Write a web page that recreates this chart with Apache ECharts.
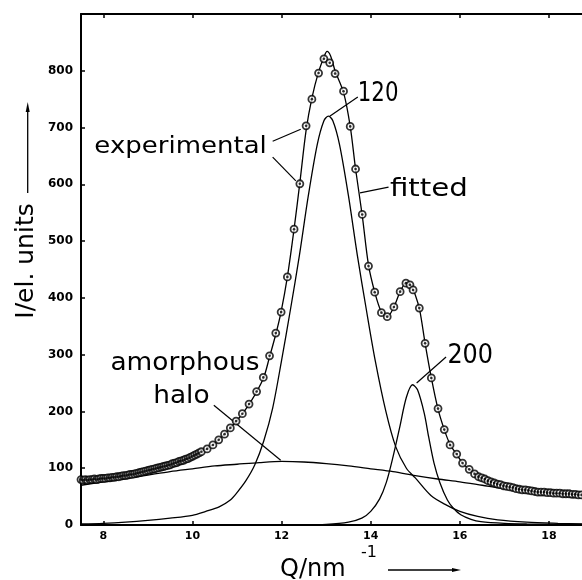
<!DOCTYPE html>
<html><head><meta charset="utf-8">
<script src="https://cdn.jsdelivr.net/npm/echarts@6/dist/echarts.min.js"></script>
<style>html,body{margin:0;padding:0;background:#fff}#c{width:582px;height:580px}</style>
</head><body><div id="c"></div>
<script>
// ---- data ----
const xTicks = [8, 10, 12, 14, 16, 18];
const yTickStep = 100;

const experimental = [
  [7.50,80],[7.55,79],[7.60,80],[7.65,79],[7.70,80],[7.75,80],[7.80,81],[7.85,80],[7.90,81],[7.95,82],
  [8.00,82],[8.05,82],[8.10,83],[8.15,83],[8.20,84],[8.25,84],[8.30,85],[8.35,85],[8.40,86],[8.45,87],
  [8.50,87],[8.55,88],[8.60,89],[8.65,89],[8.70,90],[8.75,91],[8.80,92],[8.85,93],[8.90,94],[8.95,95],
  [9.00,96],[9.05,97],[9.10,98],[9.15,99],[9.20,100],[9.25,101],[9.30,102],[9.35,103],[9.40,104],[9.45,105],
  [9.50,106],[9.55,108],[9.60,109],[9.65,110],[9.70,112],[9.75,113],[9.80,114],[9.85,116],[9.90,117],[9.95,119],
  [10.00,121],[10.05,123],[10.10,125],[10.15,127],[10.20,129],
  [10.33,134],[10.46,141],[10.59,150],[10.72,160],[10.85,171],[10.98,183],[11.12,196],[11.27,213],
  [11.44,235],[11.59,260],[11.73,298],[11.87,338],[11.99,375],[12.13,437],[12.28,521],
  [12.41,601],[12.55,703],[12.68,750],[12.83,796],[12.95,821],[13.08,814],[13.2,795],[13.39,764],
  [13.54,702],[13.66,627],[13.81,547],[13.95,456],[14.09,410],[14.24,374],[14.37,367],[14.52,384],
  [14.66,411],[14.79,426],[14.88,423],[14.95,414],[15.09,382],[15.22,320],[15.36,259],[15.51,205],
  [15.65,168],[15.78,141],[15.93,125],[16.06,109],[16.21,98],[16.33,90],
  [16.42,85],[16.49,83],[16.56,81],[16.63,78],[16.70,76],[16.77,74],[16.84,72],[16.91,71],[16.98,69],
  [17.05,68],[17.12,67],[17.19,66],[17.26,64],[17.33,63],[17.40,62],[17.47,62],[17.54,61],[17.61,60],
  [17.68,59],[17.75,58],[17.82,58],[17.89,58],[17.96,57],[18.03,57],[18.10,56],[18.17,56],[18.24,56],
  [18.31,55],[18.38,55],[18.45,55],[18.52,54],[18.59,54],[18.66,53],[18.73,53]
];

const fitted = [
  [7.5,79],[8.0,82],[8.5,87],[9.0,96],[9.5,106],[10.0,121],[10.5,144],[11.0,184],[11.3,216],
  [11.59,258],[11.73,296],[11.87,336],[11.99,376],[12.13,437],[12.28,521],[12.41,603],[12.55,695],
  [12.68,752],[12.83,798],[12.95,824],[13.02,834],[13.1,826],[13.2,800],[13.39,762],[13.54,702],
  [13.66,627],[13.81,545],[13.95,458],[14.09,410],[14.24,375],[14.37,367],[14.52,384],[14.66,411],
  [14.8,427],[14.9,422],[15.0,405],[15.1,378],[15.22,320],[15.36,259],[15.51,204],[15.65,168],
  [15.78,142],[15.93,124],[16.06,109],[16.21,98],[16.4,87],[16.7,76],[17.0,69],[17.5,61],
  [18.0,57],[18.75,53]
];

const peak120 = [
  [7.5,2],[8.0,3],[8.5,5],[9.0,8],[9.5,12],[10.0,17],[10.3,24],[10.6,32],[10.85,44],[11.0,57],
  [11.2,78],[11.4,106],[11.6,148],[11.8,206],[12.0,290],[12.2,380],[12.4,475],[12.6,580],
  [12.8,670],[12.95,712],[13.05,720],[13.15,712],[13.3,670],[13.5,580],[13.7,475],[13.9,380],
  [14.1,290],[14.34,200],[14.56,138],[14.8,100],[15.0,83],[15.35,52],[15.7,35],[16.0,24],
  [16.4,15],[16.85,9],[17.5,5],[18.2,3],[18.75,2]
];

const peak200 = [
  [12.5,0],[13.0,1],[13.5,5],[13.8,12],[14.0,24],[14.2,46],[14.35,75],[14.5,120],[14.65,172],
  [14.8,225],[14.94,247],[15.05,238],[15.2,197],[15.3,155],[15.42,109],[15.55,75],[15.72,44],
  [15.85,30],[16.02,18],[16.25,10],[16.47,6],[17.0,3],[17.5,2],[18.75,1]
];

const halo = [
  [7.5,70],[8.0,76],[8.5,82],[9.0,88],[9.5,94],[10.0,99],[10.5,104],[11.0,107],[11.5,110],
  [12.0,112],[12.5,111],[13.0,108],[13.5,104],[14.0,99],[14.5,94],[15.0,87],[15.5,81],
  [16.0,76],[16.5,70],[17.0,64],[17.5,59],[18.0,54],[18.75,48]
];

// annotation leader lines, in data coordinates [Q, I]
const leaders = [
  [[11.80,676],[12.43,697]],
  [[11.80,648],[12.32,606]],
  [[13.71,754],[13.08,720]],
  [[14.40,595],[13.76,585]],
  [[10.48,211],[11.98,114]],
  [[15.69,296],[15.03,250]]
];
// annotation texts: [text, Q, I (left/baseline anchor)]
const labels = [
  ['experimental', 7.80, 652],
  ['120', 13.71, 743],
  ['fitted', 14.43, 576],
  ['amorphous', 8.16, 269],
  ['halo', 9.12, 211],
  ['200', 15.72, 282]
];
const labelStyle = {
  'experimental': {size: 23, sx: 1.13},
  '120': {size: 26, sx: 0.82},
  'fitted': {size: 24, sx: 1.22},
  'amorphous': {size: 24, sx: 1.1},
  'halo': {size: 24, sx: 1.1},
  '200': {size: 26, sx: 0.92}
};

// ---- chart ----
const chart = echarts.init(document.getElementById('c'), null, {renderer: 'canvas'});
const axisCol = '#000';
const lineSer = (data) => ({
  type: 'line', data, showSymbol: false, smooth: 0.3, silent: true,
  lineStyle: {color: '#000', width: 1.3}, z: 3
});

const option = {
  animation: false,
  backgroundColor: '#fff',
  grid: {left: 81, right: 0, top: 14, bottom: 55, containLabel: false},
  xAxis: [{
    type: 'value', min: 7.5, max: 18.74, position: 'bottom',
    axisLine: {show: true, onZero: false, lineStyle: {color: axisCol, width: 2}},
    axisTick: {show: true, inside: true, length: 4, customValues: xTicks, lineStyle: {color: axisCol, width: 1.5}},
    axisLabel: {show: true, customValues: xTicks, color: '#000', fontSize: 11, fontWeight: 'bold',
      fontFamily: 'DejaVu Sans', margin: 6},
    splitLine: {show: false}
  }, {
    type: 'value', min: 7.5, max: 18.74, position: 'top',
    axisLine: {show: true, onZero: false, lineStyle: {color: axisCol, width: 2}},
    axisTick: {show: true, inside: true, length: 4, customValues: xTicks, lineStyle: {color: axisCol, width: 1.5}},
    axisLabel: {show: false},
    splitLine: {show: false}
  }],
  yAxis: {
    type: 'value', min: 0, max: 900, interval: yTickStep,
    axisLine: {show: true, onZero: false, lineStyle: {color: axisCol, width: 2}},
    axisTick: {show: true, inside: true, length: 4, lineStyle: {color: axisCol, width: 1.5}},
    axisLabel: {color: '#000', fontSize: 12, fontWeight: 'bold', fontFamily: 'DejaVu Sans', margin: 8,
      formatter: v => (v >= 900 ? '' : String(v))},
    splitLine: {show: false}
  },
  series: [
    lineSer(halo),
    lineSer(peak120),
    lineSer(peak200),
    Object.assign(lineSer(fitted), {
      markLine: {
        silent: true, symbol: 'none', animation: false,
        label: {show: false},
        lineStyle: {color: '#000', width: 1.2, type: 'solid'},
        emphasis: {disabled: true},
        data: leaders.map(l => [{coord: l[0]}, {coord: l[1]}])
      }
    }),
    {
      type: 'scatter', data: experimental, symbol: 'circle', symbolSize: 7, silent: true, z: 5,
      itemStyle: {color: '#fff', borderColor: '#000', borderWidth: 1.8}
    },
    {
      type: 'scatter', data: experimental, symbol: 'circle', symbolSize: 2.6, silent: true, z: 6,
      itemStyle: {color: '#000'}
    }
  ]
};
chart.setOption(option);

const gfx = [];
labels.forEach(([t, q, v]) => {
  const p = chart.convertToPixel({xAxisIndex: 0, yAxisIndex: 0}, [q, v]);
  const st = labelStyle[t];
  gfx.push({
    type: 'text', x: p[0], y: p[1] - 0.35 * st.size, scaleX: st.sx, scaleY: 1, z: 10,
    style: {text: t, font: st.size + 'px "DejaVu Sans"', fill: '#000', textAlign: 'left', textVerticalAlign: 'middle'}
  });
});
// axis titles
gfx.push({
  type: 'text', x: 26, y: 261, rotation: Math.PI / 2, z: 10,
  style: {text: 'I/el. units', font: '25px "DejaVu Sans"', fill: '#000', textAlign: 'center', textVerticalAlign: 'middle'}
});
gfx.push({type: 'line', z: 10, shape: {x1: 27.7, y1: 193, x2: 27.7, y2: 108}, style: {stroke: '#000', lineWidth: 1.3}});
gfx.push({type: 'polygon', z: 10, shape: {points: [[27.7, 102], [25.7, 112], [29.7, 112]]}, style: {fill: '#000'}});
gfx.push({
  type: 'text', x: 280, y: 578 - 0.35 * 24, z: 10,
  style: {text: 'Q/nm', font: '24px "DejaVu Sans"', fill: '#000', textAlign: 'left', textVerticalAlign: 'middle'}
});
gfx.push({
  type: 'text', x: 361, y: 558 - 0.35 * 16, z: 10,
  style: {text: '-1', font: '16px "DejaVu Sans"', fill: '#000', textAlign: 'left', textVerticalAlign: 'middle'}
});
gfx.push({type: 'line', z: 10, shape: {x1: 388, y1: 570, x2: 454, y2: 570}, style: {stroke: '#000', lineWidth: 1.3}});
gfx.push({type: 'polygon', z: 10, shape: {points: [[461, 570], [452, 568], [452, 572]]}, style: {fill: '#000'}});

chart.setOption({graphic: gfx});
</script>
</body></html>
